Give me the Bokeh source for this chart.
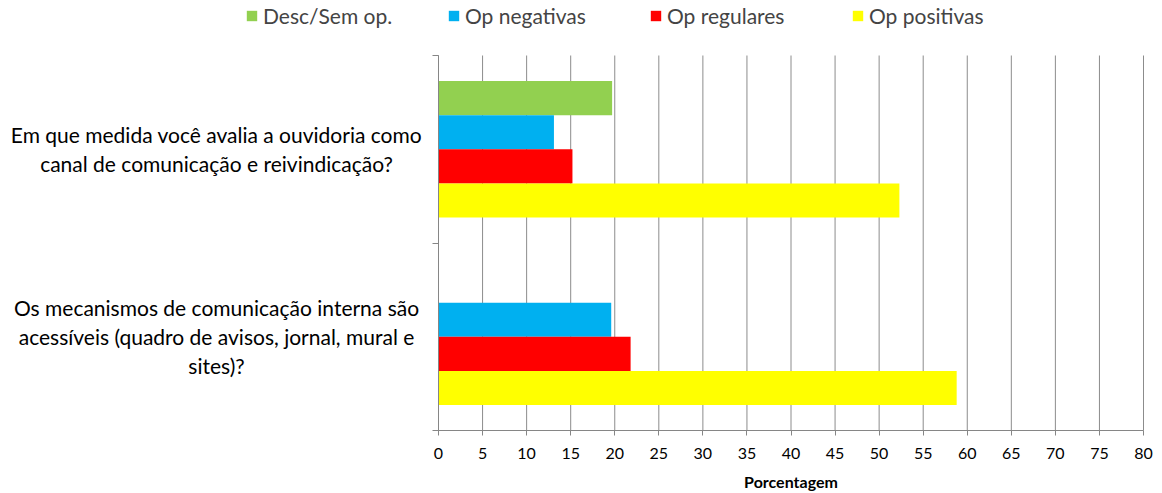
from bokeh.plotting import figure
from bokeh.models import (Range1d, FixedTicker, Legend, LegendItem, ColumnDataSource,
                          LinearAxis, Label)
from bokeh.embed import file_html
from bokeh.resources import INLINE

# ---- data ----
categories = [
    "Em que medida você avalia a ouvidoria como\ncanal de comunicação e reivindicação?",
    "Os mecanismos de comunicação interna são\nacessíveis (quadro de avisos, jornal, mural e\nsites)?",
]
series = ["Desc/Sem op.", "Op negativas", "Op regulares", "Op positivas"]
desc = [19.7, 0.0]
neg = [13.1, 19.6]
reg = [15.2, 21.8]
pos = [52.3, 58.8]
x_ticks = list(range(0, 85, 5))
x_label = "Porcentagem"

colors = ["#92D050", "#00B0F0", "#FF0000", "#FFFF00"]
GRID = "#8c8c8c"
AXIS = "#868686"
FONT = "Lato"

# ---- layout constants (pixels) ----
W, H = 1160, 492
PLOT_LEFT_PX = 438          # where value 0 sits
PLOT_RIGHT_PX = 1143        # where value 80 sits
PLOT_TOP_PX = 55            # top of the bar area
PLOT_BOTTOM_PX = 430        # bottom of the bar area (value axis)
LABEL_CENTER_PX = 216       # centre of category labels
XLABEL_DROP_PX = 51         # x-axis title below the value axis
x_max = 80
ppu = (PLOT_RIGHT_PX - PLOT_LEFT_PX) / x_max
x_lo = -PLOT_LEFT_PX / ppu
x_hi = x_max + (W - PLOT_RIGHT_PX) / ppu

n = len(categories)
ppy = (PLOT_BOTTOM_PX - PLOT_TOP_PX) / n
y_hi = n + PLOT_TOP_PX / ppy
y_lo = -(H - PLOT_BOTTOM_PX) / ppy

centers = [n - 0.5 - i for i in range(n)]
bar_h = 0.182

p = figure(width=W, height=H, x_range=Range1d(x_lo, x_hi), y_range=Range1d(y_lo, y_hi),
           output_backend="svg", toolbar_location=None, y_axis_location=None,
           min_border_left=0, min_border_right=0, min_border_top=0, min_border_bottom=0)
p.outline_line_color = None
p.background_fill_color = "white"
p.xgrid.grid_line_color = None
p.ygrid.grid_line_color = None

# vertical grid lines over the bar area only
p.segment(x0=x_ticks, x1=x_ticks, y0=[0] * len(x_ticks), y1=[n] * len(x_ticks),
          line_color=GRID, line_width=1)

renderers = []
for j, (name, vals) in enumerate(zip(series, [desc, neg, reg, pos])):
    off = (1.5 - j) * bar_h
    src = ColumnDataSource(dict(y=[c + off for c in centers], v=vals))
    r = p.hbar(y="y", right="v", left=0, height=bar_h, source=src,
               fill_color=colors[j], line_color=None)
    renderers.append(r)

# x axis drawn at value 0 of the category scale
xa = p.xaxis[0]
xa.fixed_location = 0
xa.bounds = (0, x_max)
xa.ticker = FixedTicker(ticks=x_ticks)
xa.minor_tick_line_color = None
xa.major_tick_in = 0
xa.major_tick_out = 5
xa.axis_line_color = AXIS
xa.major_tick_line_color = AXIS
xa.major_label_text_font = FONT
xa.major_label_text_font_size = "16px"
xa.major_label_text_color = "black"
xa.major_label_standoff = 12

p.add_layout(Label(x=x_max / 2, y=0, y_offset=-XLABEL_DROP_PX, text=x_label,
                   text_align="center", text_baseline="middle", text_font=FONT,
                   text_font_size="16px", text_font_style="bold", text_color="black"))

# y axis: ticks at category boundaries, drawn at value 0, no labels
y_edges = list(range(n + 1))
ya = LinearAxis(ticker=FixedTicker(ticks=y_edges), fixed_location=0, bounds=(0, n),
                major_label_overrides={e: "" for e in y_edges})
ya.minor_tick_line_color = None
ya.major_tick_in = 0
ya.major_tick_out = 6
ya.axis_line_color = AXIS
ya.major_tick_line_color = AXIS
ya.major_label_standoff = 0
p.add_layout(ya, "left")

# category labels, centred lines
label_x = (LABEL_CENTER_PX - PLOT_LEFT_PX) / ppu
line_gap = 29
for c, text in zip(centers, categories):
    lines = text.split("\n")
    k = len(lines)
    for i, ln in enumerate(lines):
        off = ((k - 1) / 2 - i) * line_gap
        p.add_layout(Label(x=label_x, y=c, y_offset=off, text=ln, text_align="center",
                           text_baseline="middle", text_font=FONT, text_font_size="21px",
                           text_color="black"))

legend = Legend(items=[LegendItem(label=s, renderers=[r]) for s, r in zip(series, renderers)],
                orientation="horizontal", location=(245, H - 28), padding=0, margin=0,
                spacing=14, label_width=170, glyph_width=13, glyph_height=13,
                label_standoff=5, border_line_color=None, background_fill_alpha=0,
                label_text_font=FONT, label_text_font_size="21px", label_height=20)
p.add_layout(legend, "center")

open("out.html", "w").write(file_html(p, INLINE))
